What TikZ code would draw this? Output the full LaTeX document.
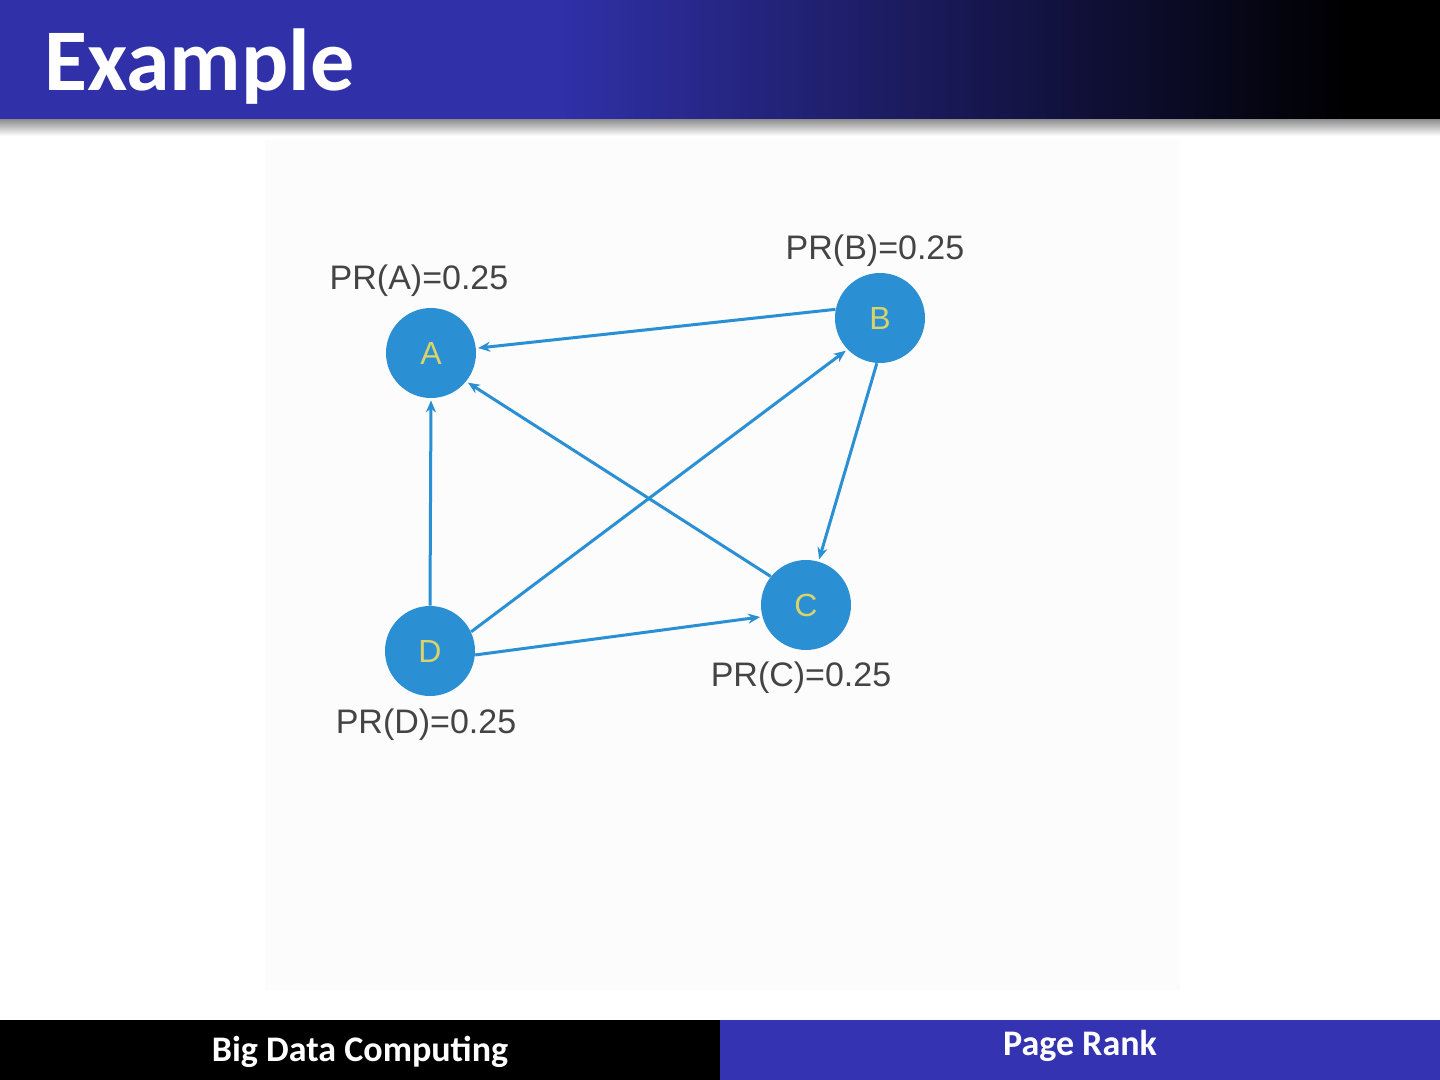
\documentclass[tikz,border=0pt]{standalone}
\usepackage{fontspec}
\setmainfont{Liberation Sans}
\newfontfamily\carlitofont{Carlito}
\usetikzlibrary{arrows.meta}
\definecolor{barblue}{HTML}{3030A8}
\definecolor{footblue}{HTML}{3434B2}
\definecolor{nodeblue}{HTML}{2B8FD3}
\definecolor{lettercol}{HTML}{D9D36A}
\definecolor{labgray}{HTML}{444444}
\tikzset{
  pnode/.style={circle, fill=nodeblue, minimum size=45pt, inner sep=0pt, text=lettercol, font=\fontsize{16}{16}\selectfont},
  prlab/.style={text=labgray, font=\fontsize{17}{18}\selectfont, inner sep=0pt},
  edge/.style={draw=nodeblue, line width=1.5pt, -{Stealth[length=6pt,width=5pt]}, shorten >=1pt, shorten <=0pt},
}
\begin{document}
\begin{tikzpicture}[x=0.5pt,y=-0.5pt]
\useasboundingbox (0,0) rectangle (1440,1080);
\fill[white] (0,0) rectangle (1440,1080);
% faint diagram background
\fill[black!1] (265,140) rectangle (1180,990);
% title bar
\fill[barblue] (0,0) rectangle (560,120);
\shade[left color=barblue, right color=black] (559,0) rectangle (1350,120);
\fill[black] (1349,0) rectangle (1440,120);
\shade[top color=black!42, bottom color=white] (0,120) rectangle (1440,136);
\node[anchor=base west, text=white, font=\carlitofont\bfseries\fontsize{44}{44}\selectfont, inner sep=0pt] (title) at (44,91) {Example};
% footer
\fill[black] (0,1020) rectangle (720,1080);
\fill[footblue] (720,1020) rectangle (1440,1080);
\node[text=white, font=\carlitofont\bfseries\fontsize{18}{18}\selectfont, inner sep=0pt] (f1) at (360,1052) {Big Data Computing};
\node[text=white, font=\carlitofont\bfseries\fontsize{18}{18}\selectfont, inner sep=0pt] (f2) at (1080,1046) {Page Rank};
% nodes
\node[pnode] (A) at (431,353) {A};
\node[pnode] (B) at (880,318) {B};
\node[pnode] (C) at (806,605) {C};
\node[pnode] (D) at (430,651) {D};
% labels
\node[prlab] (lA) at (419,281) {PR(A)=0.25};
\node[prlab] (lB) at (875,251) {PR(B)=0.25};
\node[prlab] (lC) at (801,678) {PR(C)=0.25};
\node[prlab] (lD) at (426,725) {PR(D)=0.25};
% edges
\draw[edge] (B.169) -- (A.6);
\draw[edge] (D.90) -- (A.270);
\draw[edge] (C.141) -- (A.321);
\draw[edge] (D.25) -- (B.224);
\draw[edge] (B.266) -- (C.74);
\draw[edge] (D.355) -- (C.195);
\end{tikzpicture}
\end{document}
